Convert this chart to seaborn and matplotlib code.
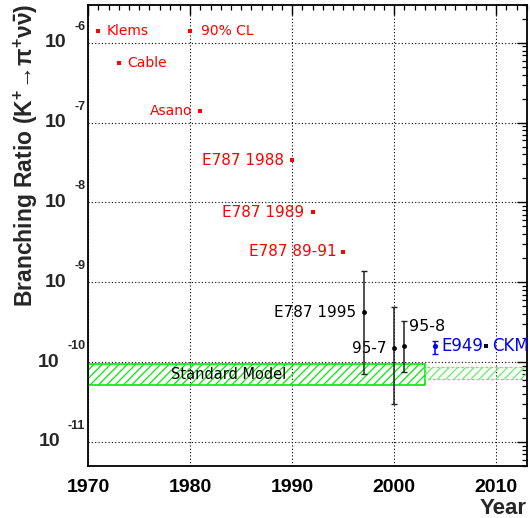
import matplotlib
matplotlib.use("Agg")
import matplotlib.pyplot as plt
import matplotlib.transforms as mtransforms
from matplotlib.ticker import FixedLocator, LogLocator, NullFormatter, MultipleLocator
import numpy as np
import pandas as pd
import seaborn as sns

# ---------------- data ----------------
limit_labels = ["Klems", "Cable", "Asano", "E787 1988", "E787 1989", "E787 89-91"]
limit_years = [1971, 1973, 1981, 1990, 1992, 1995]
limit_values = [1.4e-6, 5.6e-7, 1.4e-7, 3.4e-8, 7.5e-9, 2.4e-9]

cl_label = "90% CL"
cl_year = [1980]
cl_value = [1.4e-6]

meas_labels = ["E787 1995", "95-7", "95-8"]
meas_years = [1997, 2000, 2001]
meas_values = [4.2e-10, 1.5e-10, 1.57e-10]
meas_err_low = [3.5e-10, 1.2e-10, 0.82e-10]
meas_err_high = [9.7e-10, 3.4e-10, 1.75e-10]

e949_label = "E949"
e949_year = [2004]
e949_value = [1.57e-10]
e949_err_low = [0.29e-10]
e949_err_high = [0.27e-10]

ckm_label = "CKM"
ckm_year = [2009]
ckm_value = [1.6e-10]

sm_label = "Standard Model"
sm_years = [1970, 2003]
sm_low = [5.1e-11, 5.1e-11]
sm_high = [9.5e-11, 9.5e-11]
sm2_years = [2003, 2013]
sm2_low = [6.2e-11, 6.2e-11]
sm2_high = [8.6e-11, 8.6e-11]

decades = [-6, -7, -8, -9, -10, -11]
x_ticks = [1970, 1980, 1990, 2000, 2010]

# ---------------- style ----------------
sns.set_style("white")
plt.rcParams["font.family"] = ["DejaVu Sans"]
plt.rcParams["hatch.linewidth"] = 0.9

RED = "#ff0000"
BLUE = "#0000ff"
GREEN = "#00ee00"

fig = plt.figure(figsize=(5.30, 5.18), dpi=100)
ax = fig.add_axes([88.3 / 530, 1 - 466 / 518, (526.7 - 88.3) / 530, (466 - 4.7) / 518])
ax.set_yscale("log")
ax.set_xlim(1970, 2013)
ax.set_ylim(5e-12, 3e-6)

# Standard model bands
ax.fill_between(sm_years, sm_low, sm_high, facecolor="none", edgecolor=GREEN,
                hatch="////", linewidth=1.2, zorder=2)
ax.fill_between(sm2_years, sm2_low, sm2_high, facecolor="none", edgecolor="#66ee66",
                hatch="////", linewidth=1.0, linestyle=(0, (2, 1.5)), zorder=2)

# limits (red squares)
df_lim = pd.DataFrame({"year": limit_years + cl_year, "value": limit_values + cl_value})
sns.scatterplot(data=df_lim, x="year", y="value", marker="s", color=RED, s=12,
                linewidth=0, ax=ax, zorder=5)

# measurements (black)
ax.errorbar(meas_years, meas_values, yerr=[meas_err_low, meas_err_high], fmt="none",
            ecolor="#222222", elinewidth=1.1, capsize=2.5, capthick=1.0, zorder=4)
df_meas = pd.DataFrame({"year": meas_years, "value": meas_values})
sns.scatterplot(data=df_meas, x="year", y="value", marker="o", color="black", s=12,
                linewidth=0, ax=ax, zorder=5)

# E949 (blue)
ax.errorbar(e949_year, e949_value, yerr=[e949_err_low, e949_err_high], fmt="none",
            ecolor=BLUE, elinewidth=1.1, capsize=2.5, capthick=1.0, zorder=4)
sns.scatterplot(x=e949_year, y=e949_value, marker="o", color=BLUE, s=14,
                linewidth=0, ax=ax, zorder=5)
# CKM
sns.scatterplot(x=ckm_year, y=ckm_value, marker="s", color="#000033", s=10,
                linewidth=0, ax=ax, zorder=5)

# ---------------- annotations ----------------
lim_offsets = {"Klems": (8, "left", 10), "Cable": (8, "left", 10), "Asano": (-8, "right", 10),
               "E787 1988": (-8, "right", 11), "E787 1989": (-8, "right", 11),
               "E787 89-91": (-7, "right", 11)}
for lab, x, y in zip(limit_labels, limit_years, limit_values):
    dx, ha, fs = lim_offsets[lab]
    ax.annotate(lab, (x, y), xytext=(dx, 0), textcoords="offset pixels", ha=ha,
                va="center", color=RED, fontsize=fs)
ax.annotate(cl_label, (cl_year[0], cl_value[0]), xytext=(11, 0), textcoords="offset pixels",
            ha="left", va="center", color=RED, fontsize=10)

meas_offsets = {"E787 1995": (-7, 0, "right", 11), "95-7": (-8, 0, "right", 11),
                "95-8": (5, 20, "left", 11.5)}
for lab, x, y in zip(meas_labels, meas_years, meas_values):
    dx, dy, ha, fs = meas_offsets[lab]
    ax.annotate(lab, (x, y), xytext=(dx, dy), textcoords="offset pixels", ha=ha,
                va="center", color="black", fontsize=fs)
ax.annotate(e949_label, (e949_year[0], e949_value[0]), xytext=(6, 0), textcoords="offset pixels",
            ha="left", va="center", color=BLUE, fontsize=12)
ax.annotate(ckm_label, (ckm_year[0], ckm_value[0]), xytext=(6, 0), textcoords="offset pixels",
            ha="left", va="center", color=BLUE, fontsize=12)
ax.text(1978.1, np.sqrt(sm_low[0] * sm_high[0]), sm_label, ha="left", va="center",
        color="black", fontsize=10.5, zorder=6)

# ---------------- axes styling ----------------
for sp in ax.spines.values():
    sp.set_linewidth(1.3)
    sp.set_color("black")

ax.xaxis.set_major_locator(FixedLocator(x_ticks))
ax.xaxis.set_minor_locator(MultipleLocator(1))
ax.yaxis.set_major_locator(FixedLocator([10.0 ** d for d in decades]))
ax.yaxis.set_minor_locator(LogLocator(base=10, subs=np.arange(2, 10)))
ax.yaxis.set_minor_formatter(NullFormatter())
ax.set_yticklabels([])
ax.set_xticklabels([str(t) for t in x_ticks], fontfamily="Liberation Sans",
                   fontweight="bold", fontsize=14)
ax.tick_params(which="both", direction="in", top=True, right=True, colors="black")
ax.tick_params(which="major", length=7, width=1.0)
ax.tick_params(which="minor", length=3.5, width=0.9)
ax.tick_params(axis="x", which="major", pad=9)
ax.grid(True, which="major", linestyle=(0, (1, 2)), color="black", linewidth=0.8)
ax.set_xlabel("")
ax.set_ylabel("")

# y tick labels in ROOT style: "10" with raised exponent
renderer = fig.canvas.get_renderer()
base = mtransforms.blended_transform_factory(ax.transAxes, ax.transData)
for d in decades:
    tr_exp = mtransforms.offset_copy(base, fig=fig, x=-3, y=16, units="dots")
    t = ax.text(0, 10.0 ** d, f"{d}", transform=tr_exp, ha="right", va="center",
                fontfamily="Liberation Sans", fontweight="bold", fontsize=9, clip_on=False)
    w = t.get_window_extent(renderer=renderer).width
    tr_base = mtransforms.offset_copy(base, fig=fig, x=-3 - w - 8, y=0, units="dots")
    ax.text(0, 10.0 ** d, "10", transform=tr_base, ha="right", va="center",
            fontfamily="Liberation Sans", fontweight="bold", fontsize=14, clip_on=False)

plt.rcParams["mathtext.default"] = "regular"
fig.text(26 / 530, 1 - 4 / 518,
         r"Branching Ratio (K$^{+}\!\rightarrow\!\pi^{+}\nu\bar{\nu}$)",
         rotation=90, ha="center", va="top", fontfamily="Liberation Sans",
         fontweight="bold", fontsize=16.5)
fig.text(527 / 530, 1 - 509 / 518, "Year", ha="right", va="center",
         fontfamily="Liberation Sans", fontweight="bold", fontsize=16)

fig.savefig("out.png", dpi=100)
